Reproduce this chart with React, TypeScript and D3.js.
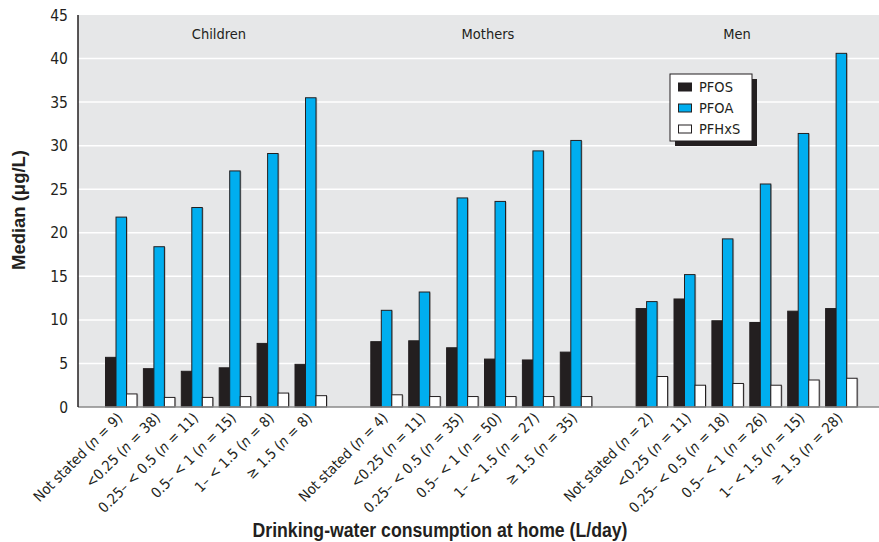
import React from "react";
import * as d3 from "d3";

const groups = ["Children", "Mothers", "Men"];
const series = ["PFOS", "PFOA", "PFHxS"];
const seriesColors = ["#231f20", "#00aeef", "#ffffff"];
const ranges = ["Not stated", "<0.25", "0.25– < 0.5", "0.5– < 1", "1– < 1.5", "≥ 1.5"];
const nChildren = [9, 38, 11, 15, 8, 8];
const nMothers = [4, 11, 35, 50, 27, 35];
const nMen = [2, 11, 18, 26, 15, 28];
const childrenPFOS = [5.7, 4.4, 4.1, 4.5, 7.3, 4.9];
const childrenPFOA = [21.8, 18.4, 22.9, 27.1, 29.1, 35.5];
const childrenPFHxS = [1.5, 1.1, 1.1, 1.2, 1.6, 1.3];
const mothersPFOS = [7.5, 7.6, 6.8, 5.5, 5.4, 6.3];
const mothersPFOA = [11.1, 13.2, 24.0, 23.6, 29.4, 30.6];
const mothersPFHxS = [1.4, 1.2, 1.2, 1.2, 1.2, 1.2];
const menPFOS = [11.3, 12.4, 9.9, 9.7, 11.0, 11.3];
const menPFOA = [12.1, 15.2, 19.3, 25.6, 31.4, 40.6];
const menPFHxS = [3.5, 2.5, 2.7, 2.5, 3.1, 3.3];
const yTicks = [0, 5, 10, 15, 20, 25, 30, 35, 40, 45];

const groupData = [
  { name: "Children", n: nChildren, vals: [childrenPFOS, childrenPFOA, childrenPFHxS] },
  { name: "Mothers", n: nMothers, vals: [mothersPFOS, mothersPFOA, mothersPFHxS] },
  { name: "Men", n: nMen, vals: [menPFOS, menPFOA, menPFHxS] },
];

const W = 879;
const H = 542;
const plotLeft = 78;
const plotRight = 879;
const plotTop = 15;
const plotBottom = 407;
const FONT = "'DejaVu Sans Condensed', 'Liberation Sans Narrow', sans-serif";
const BOLD = "'Liberation Sans', Arial, sans-serif";

export default function App() {
  const slots: string[] = [];
  groupData.forEach((g, gi) => {
    ranges.forEach((_, ri) => slots.push(`${gi}-${ri}`));
    if (gi < groupData.length - 1) slots.push(`gap${gi}`);
  });
  const x = d3.scaleBand<string>().domain(slots).range([102.3, 860.3]).paddingInner(0).paddingOuter(0);
  const sub = d3.scaleBand<string>().domain(series).range([0, 31.5]).padding(0);
  const y = d3.scaleLinear().domain([0, 45]).range([plotBottom, plotTop]);
  const subOffset = (x.bandwidth() - 31.5) / 2;
  const labelCenters = [219, 488, 737];

  return (
    <svg width={W} height={H} style={{ position: "absolute", left: 0, top: 0 }} fontFamily={FONT}>
      <rect x={0} y={0} width={W} height={H} fill="#ffffff" />
      <rect x={plotLeft} y={plotTop} width={plotRight - plotLeft} height={plotBottom - plotTop} fill="#e6e7e8" />
      {yTicks.filter((t) => t > 0 && t < 45).map((t) => (
        <line key={t} x1={plotLeft} x2={plotRight} y1={y(t)} y2={y(t)} stroke="#ffffff" strokeWidth={1.5} />
      ))}
      {yTicks.map((t) => (
        <text key={t} x={68} y={y(t) + 5.5} textAnchor="end" fontSize={15.5} fill="#231f20">{t}</text>
      ))}
      {groupData.map((g, gi) => (
        <text key={g.name} x={labelCenters[gi]} y={39} textAnchor="middle" fontSize={14.5} fill="#231f20">{groups[gi]}</text>
      ))}
      {groupData.map((g, gi) =>
        ranges.map((r, ri) => {
          const x0 = (x(`${gi}-${ri}`) as number) + subOffset;
          return (
            <g key={`${gi}-${ri}`}>
              {series.map((s, si) => {
                const v = g.vals[si][ri];
                const bx = x0 + (sub(s) as number);
                return (
                  <g key={s}>
                    <rect x={bx + 1.2} y={y(v) + 0.5} width={sub.bandwidth()} height={plotBottom - y(v) - 0.5} fill="#8a8a8a" opacity={0.6} />
                    <rect x={bx} y={y(v)} width={sub.bandwidth()} height={plotBottom - y(v)} fill={seriesColors[si]} stroke="#231f20" strokeWidth={1} />
                  </g>
                );
              })}
            </g>
          );
        })
      )}
      <line x1={plotLeft} x2={plotRight} y1={plotBottom} y2={plotBottom} stroke="#8a8a8a" strokeWidth={1.5} />
      <line x1={plotLeft} x2={plotLeft} y1={plotTop} y2={plotBottom} stroke="#231f20" strokeWidth={1.5} />
      {groupData.map((g, gi) =>
        ranges.map((r, ri) => {
          const cx = (x(`${gi}-${ri}`) as number) + x.bandwidth() / 2;
          return (
            <text key={`l${gi}-${ri}`} transform={`translate(${cx + 2},${419}) rotate(-45)`} textAnchor="end" fontSize={14.5} fill="#231f20">
              {r} (<tspan fontStyle="italic">n</tspan> = {g.n[ri]})
            </text>
          );
        })
      )}
      <g>
        <rect x={675} y={79} width={82} height={67} fill="#231f20" />
        <rect x={670} y={74} width={82} height={67} fill="#ffffff" stroke="#231f20" strokeWidth={1} />
        {series.map((s, si) => (
          <g key={s}>
            <rect x={678.5} y={83 + si * 21} width={13} height={8} fill={seriesColors[si]} stroke="#231f20" strokeWidth={1} />
            <text x={699} y={92 + si * 21} fontSize={14.5} fill="#231f20">{s}</text>
          </g>
        ))}
      </g>
      <text transform={`translate(25,${210}) rotate(-90)`} textAnchor="middle" fontSize={19} fontWeight="bold" fontFamily={BOLD} textLength={120} lengthAdjust="spacingAndGlyphs" fill="#231f20">Median (μg/L)</text>
      <text x={440} y={537} textAnchor="middle" fontSize={20} fontWeight="bold" fontFamily={BOLD} textLength={375} lengthAdjust="spacingAndGlyphs" fill="#231f20">Drinking-water consumption at home (L/day)</text>
    </svg>
  );
}
